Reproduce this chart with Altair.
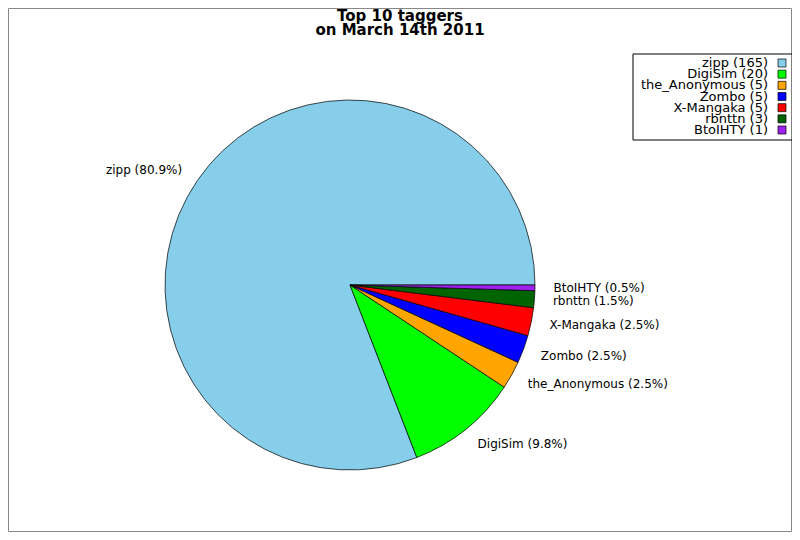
import math
import pandas as pd
import altair as alt

# Top 10 taggers, March 14th 2011
names = ['zipp', 'DigiSim', 'the_Anonymous', 'Zombo', 'X-Mangaka', 'rbnttn', 'BtoIHTY']
counts = [165, 20, 5, 5, 5, 3, 1]
colors = ['#87CEEB', '#00FF00', '#FFA500', '#0000FF', '#FF0000', '#006400', '#A020F0']

total = sum(counts)
df = pd.DataFrame({
    'idx': range(len(names)),
    'name': names,
    'count': counts,
})
df['plabel'] = [f'{n} ({c / total * 100:.1f}%)' for n, c in zip(names, counts)]
df['llabel'] = [f'{n} ({c})' for n, c in zip(names, counts)]

# pie starts at 3 o'clock and runs counterclockwise
theta_scale = alt.Scale(range=[math.pi / 2, math.pi / 2 - 2 * math.pi])
color_scale = alt.Scale(domain=names, range=colors)
cx, cy, R = 342, 277, 185

base = alt.Chart(df)

pie = base.mark_arc(outerRadius=R, stroke='black', strokeWidth=0.7).encode(
    theta=alt.Theta('count:Q', stack=True, scale=theta_scale),
    color=alt.Color('name:N', scale=color_scale, legend=None),
    order=alt.Order('idx:Q'),
    x=alt.value(cx),
    y=alt.value(cy)
)

lab = base.transform_joinaggregate(
    total='sum(count)'
).transform_window(
    cum='sum(count)', sort=[alt.SortField('idx')], frame=[None, 0]
).transform_calculate(
    mid='datum.cum - datum.count / 2'
)

lab_enc = dict(
    theta=alt.Theta('mid:Q', stack=None, scale=theta_scale),
    text='plabel:N',
    x=alt.value(cx),
    y=alt.value(cy)
)

left = lab.transform_filter('cos(2 * PI * datum.mid / datum.total) < 0').mark_text(
    align='right', baseline='middle', radius=R * 1.1, fontSize=12
).encode(**lab_enc)

right = lab.transform_filter('cos(2 * PI * datum.mid / datum.total) >= 0').mark_text(
    align='left', baseline='middle', radius=R * 1.1, fontSize=12
).encode(**lab_enc)

# legend drawn by hand: labels right-aligned, swatch on the right
one = pd.DataFrame({'a': [0]})
box = alt.Chart(one).mark_rect(fill='white', stroke='black', strokeWidth=1).encode(
    x=alt.value(625), x2=alt.value(784), y=alt.value(46), y2=alt.value(132)
)
leg_y = alt.Y('name:N', sort=names, axis=None,
              scale=alt.Scale(type='point', range=[55, 122], padding=0))
leg_text = base.mark_text(align='right', baseline='middle', fontSize=13).encode(
    x=alt.value(760),
    y=leg_y,
    text='llabel:N'
)
leg_sq = base.mark_square(size=64, stroke='black', strokeWidth=0.7, opacity=1).encode(
    x=alt.value(774),
    y=leg_y,
    color=alt.Color('name:N', scale=color_scale, legend=None)
)

title = alt.Chart(one).mark_text(
    text=['Top 10 taggers', 'on March 14th 2011'],
    fontSize=15, fontWeight='bold', align='center', baseline='alphabetic', lineHeight=13.5
).encode(x=alt.value(392), y=alt.value(13))

chart = alt.layer(pie, left, right, box, leg_text, leg_sq, title).properties(
    width=783,
    height=523,
    autosize='none',
    padding={'left': 0, 'top': 0, 'right': 1, 'bottom': 1}
).configure_view(
    stroke='#888888'
).configure_text(
    font='DejaVu Sans'
)

chart.save("out.html", embed_options={"renderer": "svg", "actions": False})
